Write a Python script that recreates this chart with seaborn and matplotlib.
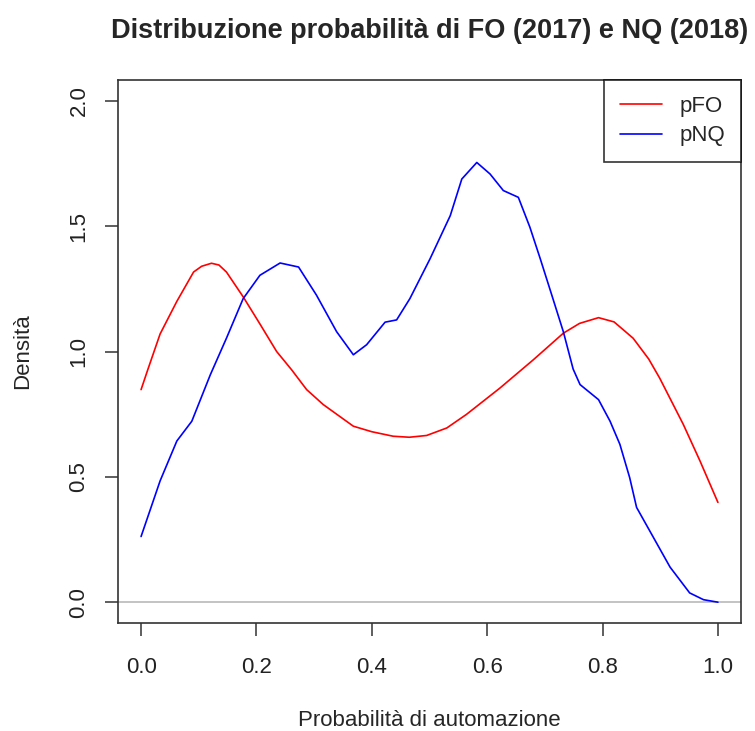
import numpy as np
import pandas as pd
import matplotlib
matplotlib.use("Agg")
import matplotlib.pyplot as plt
from matplotlib.lines import Line2D
import seaborn as sns

# ---------------------------------------------------------------------------
# DATA
# ---------------------------------------------------------------------------
x_fo = [0.0, 0.012, 0.033, 0.062, 0.091, 0.105, 0.122, 0.135, 0.148, 0.177,
        0.206, 0.235, 0.261, 0.287, 0.316, 0.368, 0.400, 0.437, 0.465, 0.495,
        0.530, 0.564, 0.622, 0.680, 0.732, 0.760, 0.793, 0.820, 0.853, 0.880,
        0.899, 0.940, 0.969, 1.0]
y_fo = [0.848, 0.93, 1.07, 1.20, 1.317, 1.340, 1.352, 1.345, 1.317, 1.218,
        1.11, 1.0, 0.927, 0.848, 0.788, 0.702, 0.680, 0.662, 0.658, 0.665,
        0.695, 0.749, 0.854, 0.967, 1.073, 1.112, 1.135, 1.118, 1.053, 0.970,
        0.894, 0.709, 0.563, 0.398]

x_nq = [0.0, 0.033, 0.062, 0.088, 0.120, 0.148, 0.177, 0.206, 0.241, 0.273,
        0.304, 0.339, 0.368, 0.391, 0.423, 0.443, 0.466, 0.501, 0.536, 0.556,
        0.582, 0.605, 0.628, 0.654, 0.674, 0.692, 0.712, 0.732, 0.749, 0.761,
        0.793, 0.813, 0.830, 0.847, 0.859, 0.888, 0.917, 0.951, 0.975, 1.0]
y_nq = [0.262, 0.484, 0.643, 0.722, 0.907, 1.053, 1.211, 1.304, 1.353, 1.337,
        1.225, 1.079, 0.987, 1.027, 1.117, 1.126, 1.211, 1.370, 1.542, 1.688,
        1.754, 1.708, 1.642, 1.615, 1.496, 1.370, 1.225, 1.079, 0.930, 0.868,
        0.808, 0.722, 0.630, 0.497, 0.378, 0.259, 0.140, 0.037, 0.010, 0.0]

x_ticks = [0.0, 0.2, 0.4, 0.6, 0.8, 1.0]
y_ticks = [0.0, 0.5, 1.0, 1.5, 2.0]

df = pd.concat([
    pd.DataFrame({"x": x_fo, "y": y_fo, "serie": "pFO"}),
    pd.DataFrame({"x": x_nq, "y": y_nq, "serie": "pNQ"}),
])

# ---------------------------------------------------------------------------
# PLOT (base-R look)
# ---------------------------------------------------------------------------
sns.set_style("ticks")
plt.rcParams["font.family"] = ["Liberation Sans", "DejaVu Sans"]

fig = plt.figure(figsize=(7.55, 7.31), dpi=100)
# plot box: 118..741 px wide, 80..623 px tall
ax = fig.add_axes([118 / 755, 1 - 623 / 731, 623 / 755, 543 / 731])

ax.axhline(0, color="#bebebe", lw=1.3, zorder=1)
sns.lineplot(data=df, x="x", y="y", hue="serie", sort=False,
             palette={"pFO": "red", "pNQ": "blue"}, lw=1.2, ax=ax,
             estimator=None, legend=False)

ax.set_xlim(-0.04, 1.04)
ax.set_ylim(-0.083, 2.083)
ax.set_xticks(x_ticks)
ax.set_xticklabels([f"{v:.1f}" for v in x_ticks])
ax.set_yticks(y_ticks)
ax.set_yticklabels([f"{v:.1f}" for v in y_ticks], rotation=90, va="center")
ax.tick_params(length=9.5, width=1.1, colors="#333333", labelcolor="#222222",
               labelsize=16)
ax.tick_params(axis="x", pad=15)
ax.tick_params(axis="y", pad=11)
for s in ax.spines.values():
    s.set_color("#333333")
    s.set_linewidth(1.2)

ax.set_title("Distribuzione probabilità di FO (2017) e NQ (2018)",
             fontsize=19.5, fontweight="bold", pad=0, y=1 + 49 / 543,
             va="center")
ax.set_xlabel("Probabilità di automazione", fontsize=16, va="center")
ax.xaxis.set_label_coords(0.5, -98 / 543)
ax.set_ylabel("Densità", fontsize=16, va="center")
ax.yaxis.set_label_coords(-95 / 623, (602 - 351) / 543 + 21 / 543)

# legend box in the top-right corner
handles = [Line2D([], [], color="red", lw=1.2), Line2D([], [], color="blue", lw=1.2)]
leg = ax.legend(handles, ["pFO", "pNQ"], loc="upper right", fontsize=16,
                frameon=True, fancybox=False, borderaxespad=0,
                handlelength=1.9, handletextpad=0.8, borderpad=0.7,
                labelspacing=0.4)
leg.get_frame().set_edgecolor("black")
leg.get_frame().set_linewidth(1.2)

fig.savefig("out.png", dpi=100)
